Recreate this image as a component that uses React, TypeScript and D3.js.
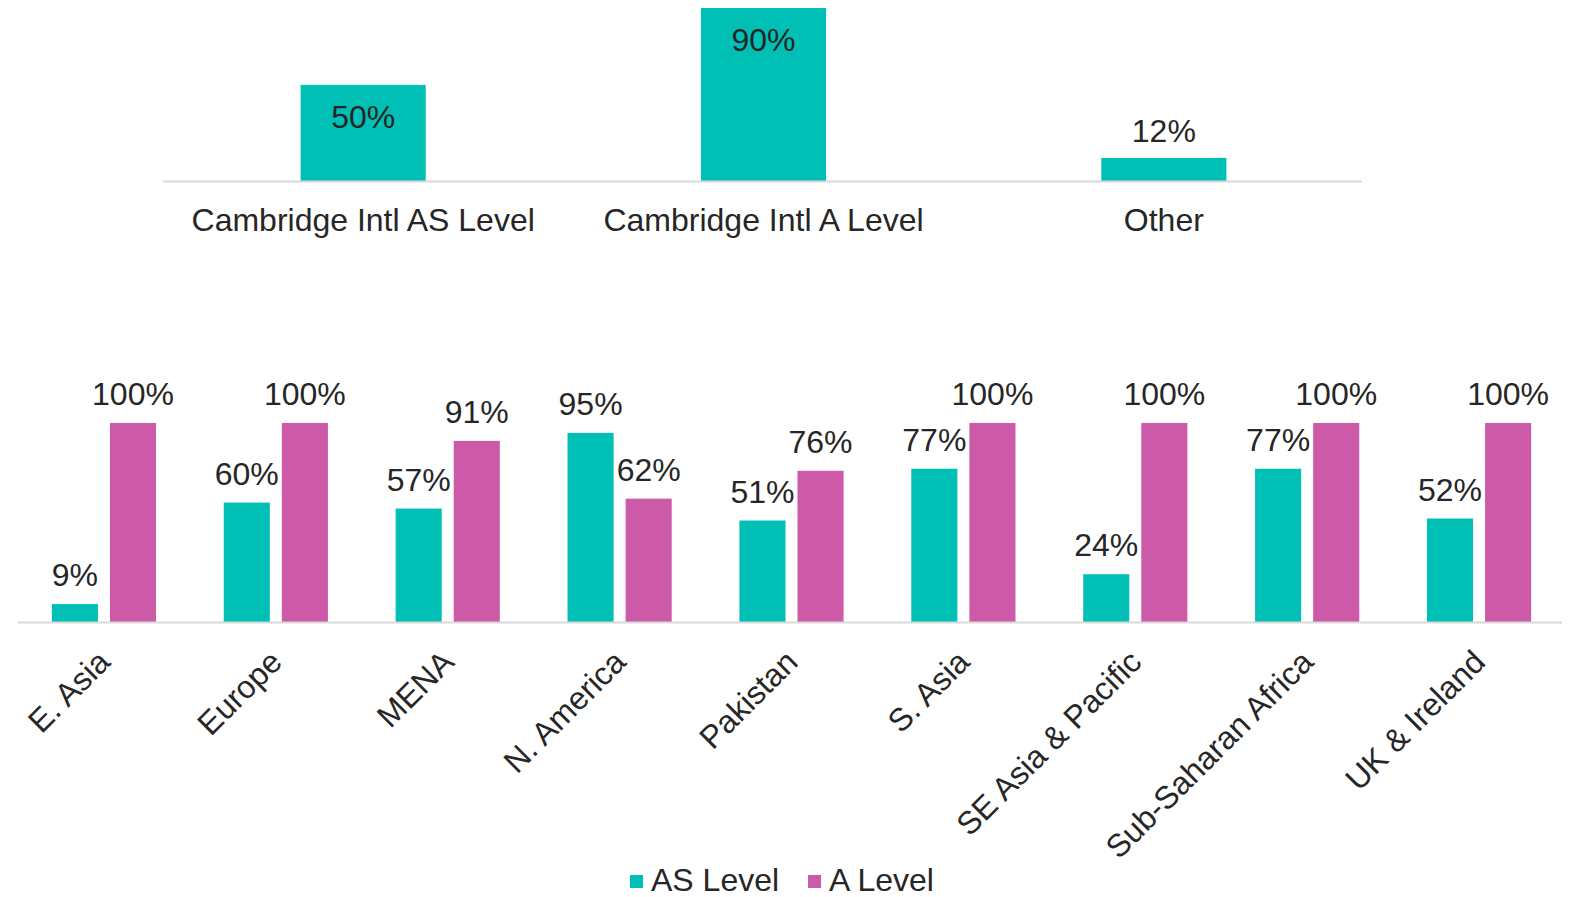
import React from "react";
import * as d3 from "d3";

const topCategories = ["Cambridge Intl AS Level", "Cambridge Intl A Level", "Other"];
const topValues = [50, 90, 12];

const regions = ["E. Asia", "Europe", "MENA", "N. America", "Pakistan", "S. Asia", "SE Asia & Pacific", "Sub-Saharan Africa", "UK & Ireland"];
const seriesNames = ["AS Level", "A Level"];
const asLevel = [9, 60, 57, 95, 51, 77, 24, 77, 52];
const aLevel = [100, 100, 91, 62, 76, 100, 100, 100, 100];

const TEAL = "#00BFB5";
const MAGENTA = "#CC5AA8";
const TEXT = "#262626";
const AXIS = "#D9D9D9";
const FONT = "'Liberation Sans', Arial, sans-serif";
const FS = 32;

export default function App() {
  const W = 1572, H = 897;

  // top chart
  const xTop = d3.scaleBand<string>().domain(topCategories).range([163, 1364]).padding(0);
  const yTop = d3.scaleLinear().domain([0, 100]).range([181, 181 - 192.2]);
  const topBarW = xTop.bandwidth() * 0.3125;

  // bottom chart
  const xBot = d3.scaleBand<string>().domain(regions).range([18, 1565]).padding(0);
  const groupW = xBot.bandwidth() * 0.606;
  const xInner = d3.scaleBand<string>().domain(seriesNames).range([0, groupW]).paddingInner(0.2069).paddingOuter(0);
  const yBot = d3.scaleLinear().domain([0, 100]).range([622, 423]);
  const seriesData = [asLevel, aLevel];
  const seriesColors = [TEAL, MAGENTA];

  return (
    <svg width={W} height={H} style={{ position: "absolute", left: 0, top: 0, background: "#fff" }} fontFamily={FONT}>
      {/* top chart */}
      {topCategories.map((c, i) => {
        const cx = (xTop(c) as number) + xTop.bandwidth() / 2;
        const yv = yTop(topValues[i]);
        const inside = topValues[i] >= 30;
        return (
          <g key={c}>
            <rect x={cx - topBarW / 2} y={yv} width={topBarW} height={yTop(0) - yv} fill={TEAL} />
            <text x={cx} y={inside ? yv + 43 : yv - 16} textAnchor="middle" fontSize={FS} fill={TEXT}>
              {topValues[i]}%
            </text>
            <text x={cx} y={231} textAnchor="middle" fontSize={FS} fill={TEXT}>{c}</text>
          </g>
        );
      })}
      <line x1={163} x2={1362} y1={181.5} y2={181.5} stroke={AXIS} strokeWidth={2} />

      {/* bottom chart */}
      {regions.map((r, i) => {
        const gx = (xBot(r) as number) + (xBot.bandwidth() - groupW) / 2;
        const cx = (xBot(r) as number) + xBot.bandwidth() / 2;
        return (
          <g key={r}>
            {seriesNames.map((s, j) => {
              const v = seriesData[j][i];
              const bx = gx + (xInner(s) as number);
              const yv = yBot(v);
              return (
                <g key={s}>
                  <rect x={bx} y={yv} width={xInner.bandwidth()} height={yBot(0) - yv} fill={seriesColors[j]} />
                  <text x={bx + xInner.bandwidth() / 2} y={yv - 18} textAnchor="middle" fontSize={FS} fill={TEXT}>{v}%</text>
                </g>
              );
            })}
            <text transform={`translate(${cx + 8},${664}) rotate(-45)`} textAnchor="end" fontSize={FS} fill={TEXT}>{r}</text>
          </g>
        );
      })}
      <line x1={18} x2={1562} y1={622.5} y2={622.5} stroke={AXIS} strokeWidth={2} />

      {/* legend */}
      {seriesNames.map((s, j) => {
        const lx = j === 0 ? 630 : 808;
        return (
          <g key={s}>
            <rect x={lx} y={875} width={13} height={13} fill={seriesColors[j]} />
            <text x={lx + 21} y={891} fontSize={FS} fill={TEXT}>{s}</text>
          </g>
        );
      })}
    </svg>
  );
}
